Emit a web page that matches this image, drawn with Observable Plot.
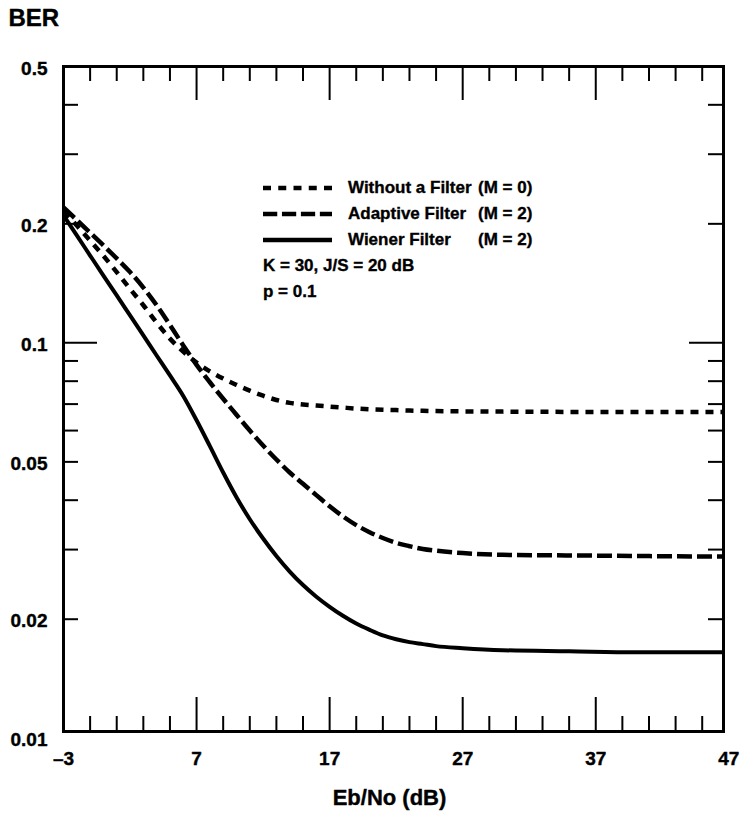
<!DOCTYPE html>
<html>
<head>
<meta charset="utf-8">
<script src="https://cdn.jsdelivr.net/npm/d3@7"></script>
<script src="https://cdn.jsdelivr.net/npm/@observablehq/plot@0.6"></script>
<style>
  html, body { margin: 0; padding: 0; background: #fff; }
  #wrap { position: relative; width: 741px; height: 813px; font-family: "Liberation Sans", Arial, Helvetica, sans-serif; }
  #legend { position: absolute; left: 263px; top: 175px; font-weight: bold; font-size: 17px; color: #000; -webkit-text-stroke: 0.35px #000; }
  .row { position: relative; height: 26px; line-height: 26px; white-space: nowrap; }
  .row svg { position: absolute; left: 0; top: 0; }
  .row .name { position: absolute; left: 85px; }
  .row .m { position: absolute; left: 215px; }
</style>
</head>
<body>
<div id="wrap">
  <div id="chart"></div>
  <div id="legend"></div>
</div>
<script>
// Eb/No sample points (dB)
const ebNo = [-3,-2,-1,0,1,2,3,4,5,6,7,8,9,10,11,12,13,14,15,16,17,18,19,20,21,22,23,24,25,27,30,35,40,47];
// BER, Without a Filter (M = 0)
const withoutFilter = [0.215,0.198,0.1815,0.166,0.151,0.137,0.1245,0.1125,0.1025,0.0950,0.0892,0.0847,0.0812,0.0783,0.0757,0.0735,0.0717,0.0705,0.0698,0.0694,0.0690,0.0686,0.0682,0.0679,0.0677,0.0676,0.0674,0.0673,0.0672,0.0671,0.0670,0.0669,0.0669,0.0669];
// BER, Adaptive Filter (M = 2)
const adaptiveFilter = [0.220,0.2045,0.190,0.1765,0.1635,0.151,0.138,0.1245,0.111,0.0985,0.0880,0.0795,0.0722,0.0658,0.0600,0.0550,0.0507,0.0470,0.0440,0.0412,0.0386,0.0364,0.0346,0.0332,0.0321,0.0312,0.0306,0.0301,0.0298,0.0294,0.0291,0.0290,0.0289,0.0288];
// BER, Wiener Filter (M = 2)
const wienerFilter = [0.210,0.1869,0.1663,0.1480,0.1318,0.1173,0.1044,0.0929,0.0827,0.0734,0.0637,0.0548,0.0470,0.0407,0.0358,0.0320,0.0289,0.0264,0.0244,0.0228,0.0215,0.0204,0.0195,0.0188,0.0182,0.0178,0.0175,0.0173,0.0171,0.0169,0.0167,0.0166,0.0165,0.0165];

// Axis ticks and labels
const xTickLabels = [-3, 7, 17, 27, 37, 47];
const xMajorTicks = [7, 17, 27, 37];
const xMinorTicks = [-1,1,3,5,9,11,13,15,19,21,23,25,29,31,33,35,39,41,43,45];
const yTickLabels = [0.01, 0.02, 0.05, 0.1, 0.2, 0.5];
const yMajorTicks = [0.1];
const yMinorTicks = [0.02,0.03,0.04,0.05,0.06,0.07,0.08,0.09,0.2,0.3,0.4];

const legendItems = [
  {name: "Without a Filter", m: "(M = 0)", dash: "8,7.25"},
  {name: "Adaptive Filter", m: "(M = 2)", dash: "14.25,4.7"},
  {name: "Wiener Filter", m: "(M = 2)", dash: null}
];
const notes = ["K = 30, J/S = 20 dB", "p = 0.1"];

const W = 741, H = 813;
const mT = 66, mL = 63, mR = 18, mB = 82;
const pw = W - mL - mR, ph = H - mT - mB;
const minor = 15, major = 34;
const font = '"Liberation Sans", Arial, Helvetica, sans-serif';

const fmtY = d => String(d);
const fmtX = d => d < 0 ? "\u2013" + Math.abs(d) : String(d);

const series = [
  {vals: withoutFilter, dash: "8,7", sw: 4.5},
  {vals: adaptiveFilter, dash: "15,5", sw: 4.5},
  {vals: wienerFilter, dash: null, sw: 4}
];

const tickStyle = {stroke: "#000", strokeWidth: 2};
const labelStyle = {fontWeight: "bold", fill: "#000", stroke: "#000", strokeWidth: 0.4, lineAnchor: "middle"};

const chart = Plot.plot({
  width: W, height: H,
  marginTop: mT, marginLeft: mL, marginRight: mR, marginBottom: mB,
  style: {fontFamily: font, background: "#fff", color: "#000"},
  x: {domain: [-3, 46.6], axis: null},
  y: {type: "log", domain: [0.0104, 0.5], axis: null},
  marks: [
    // ticks: left / right
    Plot.tickY(yMinorTicks, {y: d => d, insetRight: pw - minor, ...tickStyle}),
    Plot.tickY(yMinorTicks, {y: d => d, insetLeft: pw - minor, ...tickStyle}),
    Plot.tickY(yMajorTicks, {y: d => d, insetRight: pw - major, ...tickStyle}),
    Plot.tickY(yMajorTicks, {y: d => d, insetLeft: pw - major, ...tickStyle}),
    // ticks: bottom / top
    Plot.tickX(xMinorTicks, {x: d => d, insetTop: ph - minor, ...tickStyle}),
    Plot.tickX(xMinorTicks, {x: d => d, insetBottom: ph - minor, ...tickStyle}),
    Plot.tickX(xMajorTicks, {x: d => d, insetTop: ph - major, ...tickStyle}),
    Plot.tickX(xMajorTicks, {x: d => d, insetBottom: ph - major, ...tickStyle}),
    // curves
    ...series.map(s => Plot.line(s.vals, {
      x: (d, i) => ebNo[i], y: d => d,
      stroke: "#000", strokeWidth: s.sw, strokeDasharray: s.dash,
      curve: "monotone-x", strokeLinecap: "butt", clip: true
    })),
    Plot.frame({stroke: "#000", strokeWidth: 3}),
    // tick labels
    Plot.text(yTickLabels, {y: d => d, text: fmtY, frameAnchor: "left", textAnchor: "end",
      dx: -16, dy: 2, fontSize: 19, ...labelStyle}),
    Plot.text(xTickLabels, {x: d => d, text: fmtX, frameAnchor: "bottom",
      dy: 27, fontSize: 19, ...labelStyle}),
    // axis titles
    Plot.text(["Eb/No (dB)"], {frameAnchor: "bottom", dx: -4, dy: 66, fontSize: 22,
      text: d => d, ...labelStyle}),
    Plot.text(["BER"], {frameAnchor: "top-left", textAnchor: "start", dx: -55, dy: -48,
      fontSize: 24, text: d => d, ...labelStyle})
  ]
});
document.getElementById("chart").appendChild(chart);

// Legend (HTML overlay inside the plot area)
const legend = document.getElementById("legend");
legendItems.forEach(it => {
  const row = document.createElement("div");
  row.className = "row";
  row.innerHTML = `<svg width="69" height="26"><line x1="0" x2="69" y1="13" y2="13" stroke="#000" stroke-width="4.5" ${it.dash ? `stroke-dasharray="${it.dash}"` : ""}/></svg><span class="name">${it.name}</span><span class="m">${it.m}</span>`;
  legend.appendChild(row);
});
notes.forEach(n => {
  const row = document.createElement("div");
  row.className = "row";
  row.textContent = n;
  legend.appendChild(row);
});
</script>
</body>
</html>
